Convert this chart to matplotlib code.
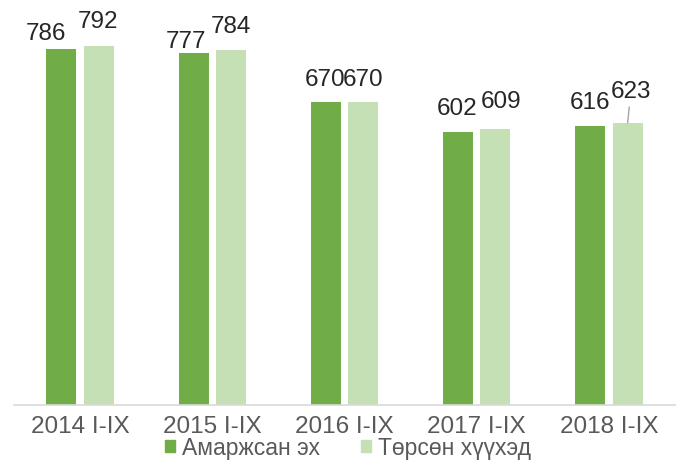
import numpy as np
import matplotlib
matplotlib.use("Agg")
from matplotlib import pyplot as plt
from matplotlib.patches import Patch

#%% data
periods = ["2014 I-IX", "2015 I-IX", "2016 I-IX", "2017 I-IX", "2018 I-IX"]
mothers = [786, 777, 670, 602, 616]      # Амаржсан эх
children = [792, 784, 670, 609, 623]     # Төрсөн хүүхэд
labels = ["Амаржсан эх", "Төрсөн хүүхэд"]

# label nudges (pixels) as placed in the source chart
off_m = [(-15, 9), (-8, 5), (-1, 16), (-1, 17), (0, 17)]
off_c = [(-1, 18), (0, 17), (0, 16), (6, 21), (3, 25)]

dark = "#70AD47"
light = "#C5E0B4"
txt = "#262626"
grey = "#595959"

plt.rcParams["font.family"] = ["Liberation Sans", "DejaVu Sans"]

fig = plt.figure(figsize=(6.82, 4.61), dpi=100)
ax = fig.add_axes([14 / 682, 56 / 461, 661 / 682, 385 / 461])

x = np.arange(len(periods))
w = 0.227
d = 0.142
ax.bar(x - d, mothers, w, color=dark, label=labels[0])
ax.bar(x + d, children, w, color=light, label=labels[1])

for i in range(len(periods)):
    ax.annotate(str(mothers[i]), (x[i] - d, mothers[i]), xytext=off_m[i],
                textcoords="offset pixels", ha="center", va="baseline",
                fontsize=17.5, color=txt)
    if i == 4:
        ax.annotate(str(children[i]), (x[i] + d, children[i]), xytext=off_c[i],
                    textcoords="offset pixels", ha="center", va="baseline",
                    fontsize=17.5, color=txt,
                    arrowprops=dict(arrowstyle="-", color="#a6a6a6", lw=1,
                                    shrinkA=1, shrinkB=0))
    else:
        ax.annotate(str(children[i]), (x[i] + d, children[i]), xytext=off_c[i],
                    textcoords="offset pixels", ha="center", va="baseline",
                    fontsize=17.5, color=txt)

ax.set_xlim(-0.5, len(periods) - 0.5)
ax.set_ylim(0, 850)
ax.set_xticks(x)
ax.set_xticklabels(periods, fontsize=17.5, color=grey)
ax.tick_params(axis="x", length=0, pad=8)
ax.set_yticks([])
for s in ["top", "right", "left"]:
    ax.spines[s].set_visible(False)
ax.spines["bottom"].set_color("#d9d9d9")
ax.spines["bottom"].set_linewidth(1.2)

handles = [Patch(color=dark), Patch(color=light)]
fig.legend(handles, labels, loc="center", bbox_to_anchor=(348 / 682, 1 - 448 / 461),
           ncol=2, frameon=False, fontsize=16.5, labelcolor=grey,
           handlelength=0.42, handleheight=0.42, handletextpad=0.3,
           columnspacing=1.8, borderpad=0, borderaxespad=0)

fig.savefig("out.png", dpi=100)
